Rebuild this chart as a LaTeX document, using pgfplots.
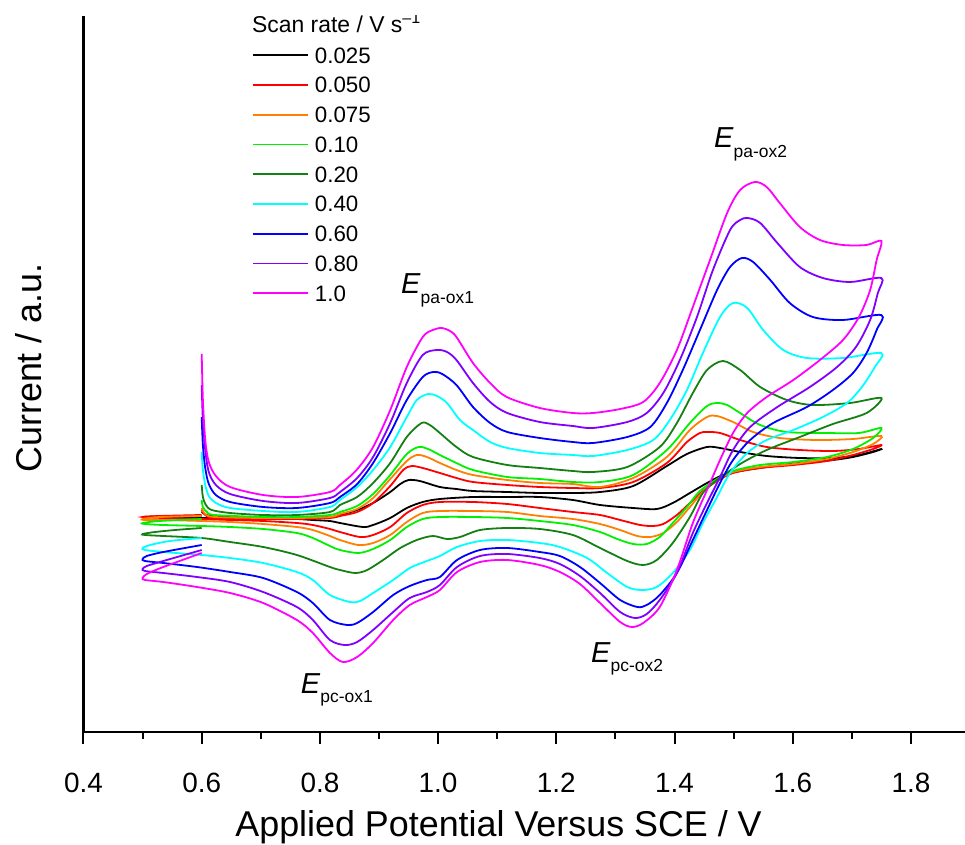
\documentclass[border=0pt]{standalone}
\usepackage{pgfplots}
\pgfplotsset{compat=1.18}
\usepackage{fontspec}
\setmainfont{Liberation Sans}
\definecolor{cOrange}{RGB}{255,128,0}
\definecolor{cGreen}{RGB}{0,240,0}
\definecolor{cDkGreen}{RGB}{20,128,20}
\definecolor{cCyan}{RGB}{0,255,255}
\definecolor{cBlue}{RGB}{0,0,255}
\definecolor{cViolet}{RGB}{128,0,255}
\definecolor{cMagenta}{RGB}{255,0,255}
\newcommand\tfont{\fontsize{28}{32}\selectfont}
\newcommand\lfont{\fontsize{22.4}{26}\selectfont}
\newcommand\annot[1]{{\fontsize{29}{32}\selectfont\textit{E}}\raisebox{-9.5bp}{\fontsize{17.5}{20}\selectfont #1}}
\begin{document}
\begin{tikzpicture}
\useasboundingbox (-83.5bp,-113bp) rectangle (881.5bp,732bp);
\begin{axis}[
  scale only axis, width=881.5bp, height=716bp,
  at={(0,0)}, anchor=south west,
  xmin=0.4, xmax=1.8915, ymin=0, ymax=716,
  axis x line=bottom, axis y line=left,
  axis line style={-, line width=2.2bp},
  xtick={0.4,0.6,0.8,1.0,1.2,1.4,1.6,1.8},
  minor xtick={0.5,0.7,0.9,1.1,1.3,1.5,1.7},
  ytick=\empty,
  tick align=outside,
  major tick length=12bp, minor tick length=7bp,
  every tick/.style={black, line width=2bp},
  xticklabel={\tfont\pgfmathprintnumber[fixed,fixed zerofill,precision=1,assume math mode=true]{\tick}},
  xticklabel style={anchor=base, yshift=-48bp},
  xlabel={Applied Potential Versus SCE / V},
  ylabel={Current / a.u.},
  every axis x label/.style={at={(axis description cs:0.4709,-0.1466)}, anchor=base, font=\fontsize{36}{40}\selectfont},
  every axis y label/.style={at={(axis description cs:-0.0474,0.5084)}, rotate=90, anchor=base, font=\fontsize{36}{40}\selectfont},
  legend style={at={(axis description cs:0.1911,0.9567)}, anchor=north west, draw=none, fill=none,
    row sep=13.75bp, inner sep=0pt, nodes={inner sep=0pt, text height=16bp, text depth=0bp, font=\lfont}},
  legend cell align=left,
  legend image code/.code={\draw[#1] (0bp,0bp) -- (54.5bp,0bp);},
  /tikz/every odd column/.append style={column sep=6.5bp},
  every axis plot/.append style={line width=1.8bp, smooth, tension=0.5},
]
% 0.025
\addplot[black] coordinates {
(0.600,220) (0.614,216) (0.648,215) (0.704,215) (0.761,214) (0.817,215) (0.834,217) (0.863,222) (0.890,229) (0.919,240) (0.936,248) (0.950,252) (0.969,251) (1.003,245) (1.031,243) (1.059,241) (1.117,240) (1.172,239) (1.228,239) (1.274,240) (1.330,246) (1.387,266) (1.421,278) (1.455,285) (1.477,284) (1.511,280) (1.556,276) (1.612,274) (1.668,274) (1.712,277) (1.750,283)
(1.736,280) (1.702,275) (1.668,272) (1.612,269) (1.556,265) (1.511,261) (1.482,257) (1.455,249) (1.426,239) (1.397,229) (1.370,223) (1.330,224) (1.274,227) (1.228,232) (1.172,235) (1.117,235) (1.059,235) (1.003,233) (0.974,230) (0.947,224) (0.919,214) (0.890,207) (0.873,205) (0.834,209) (0.817,211) (0.788,212) (0.761,213) (0.704,214) (0.648,214) (0.600,214) (0.535,215) (0.500,215) (0.546,216) (0.600,216)
};
\addlegendentry{\lfont 0.025}
% 0.050
\addplot[red] coordinates {
(0.600,222) (0.606,217) (0.622,214) (0.704,213) (0.761,213) (0.817,214) (0.834,216) (0.863,220) (0.890,229) (0.919,246) (0.941,262) (0.955,266) (0.974,264) (1.003,259) (1.031,254) (1.059,250) (1.117,247) (1.172,245) (1.228,244) (1.274,244) (1.330,250) (1.387,269) (1.421,290) (1.443,299) (1.455,300) (1.477,299) (1.511,292) (1.556,285) (1.612,282) (1.668,281) (1.712,283) (1.750,287)
(1.736,283) (1.702,277) (1.658,271) (1.601,267) (1.545,264) (1.499,259) (1.472,251) (1.448,241) (1.426,229) (1.404,217) (1.381,208) (1.364,206) (1.342,207) (1.308,212) (1.274,217) (1.228,220) (1.172,224) (1.117,228) (1.059,230) (1.003,230) (0.974,227) (0.947,219) (0.919,205) (0.890,197) (0.868,195) (0.834,200) (0.817,203) (0.788,207) (0.761,209) (0.704,211) (0.648,212) (0.600,213) (0.535,214) (0.500,215) (0.529,216) (0.600,217)
};
\addlegendentry{\lfont 0.050}
% 0.075
\addplot[cOrange] coordinates {
(0.600,224) (0.606,218) (0.622,215) (0.704,214) (0.761,214) (0.817,215) (0.834,218) (0.863,223) (0.890,234) (0.919,253) (0.947,271) (0.964,277) (0.981,275) (1.003,269) (1.031,262) (1.059,257) (1.117,252) (1.172,249) (1.228,248) (1.274,245) (1.330,254) (1.387,275) (1.426,302) (1.455,315) (1.472,316) (1.499,310) (1.533,300) (1.578,294) (1.641,292) (1.702,293) (1.750,296)
(1.736,288) (1.702,280) (1.658,273) (1.601,268) (1.545,265) (1.499,260) (1.472,252) (1.448,240) (1.426,225) (1.404,210) (1.381,199) (1.359,195) (1.337,196) (1.308,202) (1.274,208) (1.228,213) (1.172,216) (1.117,220) (1.059,221) (1.003,221) (0.974,219) (0.947,210) (0.919,197) (0.890,189) (0.865,187) (0.834,192) (0.817,196) (0.788,202) (0.761,205) (0.704,208) (0.648,210) (0.600,211) (0.535,212) (0.504,212) (0.500,213) (0.529,215) (0.600,216)
};
\addlegendentry{\lfont 0.075}
% 0.10
\addplot[cGreen] coordinates {
(0.600,232) (0.602,225) (0.609,220) (0.622,217) (0.704,215) (0.761,215) (0.817,217) (0.834,220) (0.863,226) (0.890,238) (0.919,257) (0.947,278) (0.967,285) (0.983,283) (1.003,277) (1.031,269) (1.059,262) (1.117,255) (1.172,253) (1.228,250) (1.274,250) (1.330,257) (1.387,282) (1.426,309) (1.455,326) (1.472,329) (1.489,327) (1.511,319) (1.545,307) (1.590,300) (1.658,299) (1.712,299) (1.750,304)
(1.736,294) (1.702,283) (1.658,275) (1.601,270) (1.545,267) (1.499,261) (1.472,253) (1.443,241) (1.421,225) (1.397,209) (1.375,195) (1.353,188) (1.330,188) (1.303,193) (1.274,200) (1.228,207) (1.172,211) (1.117,214) (1.059,215) (1.003,215) (0.974,213) (0.947,205) (0.919,192) (0.890,183) (0.865,179) (0.834,182) (0.817,186) (0.788,194) (0.761,199) (0.704,203) (0.648,205) (0.600,206) (0.535,207) (0.504,208) (0.500,209) (0.529,211) (0.600,213)
};
\addlegendentry{\lfont 0.10}
% 0.20
\addplot[cDkGreen] coordinates {
(0.600,247) (0.602,235) (0.607,227) (0.617,222) (0.648,219) (0.704,217) (0.761,217) (0.817,220) (0.834,227) (0.863,235) (0.890,249) (0.919,269) (0.947,295) (0.972,309) (0.986,307) (1.003,299) (1.031,285) (1.059,275) (1.117,267) (1.172,264) (1.228,261) (1.262,260) (1.320,265) (1.375,285) (1.404,309) (1.431,339) (1.455,362) (1.482,371) (1.511,362) (1.545,345) (1.590,332) (1.634,327) (1.697,329) (1.750,334)
(1.725,319) (1.668,308) (1.612,295) (1.556,282) (1.511,268) (1.472,252) (1.448,239) (1.426,215) (1.397,189) (1.370,172) (1.347,167) (1.320,171) (1.274,184) (1.228,197) (1.172,203) (1.117,204) (1.071,202) (1.037,195) (1.015,193) (0.991,196) (0.964,192) (0.936,184) (0.907,172) (0.880,162) (0.860,159) (0.834,162) (0.817,165) (0.761,177) (0.704,185) (0.648,190) (0.600,194) (0.535,196) (0.504,197) (0.500,198) (0.521,200) (0.555,202) (0.600,204)
};
\addlegendentry{\lfont 0.20}
% 0.40
\addplot[cCyan] coordinates {
(0.600,280) (0.602,262) (0.606,247) (0.612,236) (0.624,229) (0.648,224) (0.704,221) (0.761,220) (0.817,225) (0.834,232) (0.863,245) (0.890,262) (0.919,285) (0.947,315) (0.964,332) (0.983,338) (0.998,336) (1.015,329) (1.037,312) (1.059,302) (1.088,290) (1.117,284) (1.172,279) (1.228,277) (1.262,276) (1.320,282) (1.364,292) (1.392,312) (1.421,342) (1.448,379) (1.477,415) (1.499,429) (1.523,424) (1.550,402) (1.584,382) (1.624,374) (1.685,374) (1.750,379)
(1.739,365) (1.717,345) (1.692,329) (1.651,315) (1.601,302) (1.556,292) (1.523,279) (1.494,259) (1.472,235) (1.448,209) (1.426,182) (1.397,159) (1.370,145) (1.345,142) (1.320,145) (1.286,159) (1.252,174) (1.206,185) (1.172,189) (1.117,192) (1.071,191) (1.032,185) (1.003,176) (0.981,171) (0.952,164) (0.924,152) (0.890,139) (0.868,131) (0.851,130) (0.817,137) (0.788,152) (0.761,160) (0.704,169) (0.648,174) (0.600,177) (0.535,180) (0.504,182) (0.500,184) (0.513,187) (0.546,191) (0.600,194)
};
\addlegendentry{\lfont 0.40}
% 0.60
\addplot[cBlue] coordinates {
(0.600,315) (0.602,287) (0.606,264) (0.612,248) (0.624,237) (0.648,230) (0.704,225) (0.761,224) (0.817,229) (0.834,235) (0.863,248) (0.890,269) (0.919,299) (0.947,332) (0.974,355) (0.992,360) (1.007,358) (1.031,347) (1.059,325) (1.088,309) (1.117,300) (1.172,294) (1.228,290) (1.262,289) (1.320,295) (1.359,305) (1.387,329) (1.414,362) (1.443,402) (1.472,442) (1.494,465) (1.514,474) (1.533,470) (1.562,452) (1.595,429) (1.634,415) (1.685,412) (1.750,417)
(1.742,402) (1.725,379) (1.702,359) (1.668,342) (1.624,325) (1.567,309) (1.528,292) (1.499,272) (1.477,249) (1.455,222) (1.431,192) (1.404,159) (1.375,137) (1.353,127) (1.337,125) (1.308,132) (1.274,149) (1.240,165) (1.206,176) (1.172,180) (1.117,184) (1.071,182) (1.032,172) (1.003,155) (0.981,152) (0.952,146) (0.924,137) (0.890,120) (0.863,109) (0.846,107) (0.817,112) (0.788,129) (0.761,140) (0.704,154) (0.648,160) (0.592,165) (0.535,169) (0.504,171) (0.500,173) (0.507,176) (0.535,180) (0.600,187)
};
\addlegendentry{\lfont 0.60}
% 0.80
\addplot[cViolet] coordinates {
(0.600,347) (0.602,312) (0.606,282) (0.612,260) (0.624,247) (0.648,238) (0.704,231) (0.761,229) (0.817,234) (0.834,240) (0.863,254) (0.890,275) (0.919,309) (0.947,349) (0.974,377) (0.998,382) (1.015,380) (1.031,372) (1.059,349) (1.088,330) (1.117,319) (1.172,310) (1.228,306) (1.262,304) (1.320,310) (1.353,319) (1.381,339) (1.409,372) (1.438,415) (1.465,462) (1.494,502) (1.511,512) (1.524,514) (1.545,509) (1.574,489) (1.612,465) (1.651,454) (1.697,450) (1.750,454)
(1.744,439) (1.731,412) (1.707,385) (1.675,365) (1.629,345) (1.574,325) (1.528,305) (1.499,282) (1.477,255) (1.455,229) (1.431,199) (1.404,159) (1.375,132) (1.353,118) (1.333,114) (1.308,120) (1.274,139) (1.240,156) (1.206,168) (1.172,174) (1.117,178) (1.071,176) (1.032,165) (1.003,147) (0.981,140) (0.952,134) (0.924,120) (0.890,102) (0.863,90) (0.842,87) (0.817,92) (0.788,112) (0.761,125) (0.704,140) (0.648,150) (0.592,155) (0.535,159) (0.504,161) (0.500,163) (0.507,166) (0.535,171) (0.600,182)
};
\addlegendentry{\lfont 0.80}
% 1.0
\addplot[cMagenta] coordinates {
(0.600,378) (0.602,332) (0.606,292) (0.612,270) (0.624,256) (0.648,245) (0.704,237) (0.761,235) (0.817,240) (0.834,247) (0.862,262) (0.890,285) (0.919,322) (0.947,365) (0.974,395) (0.991,402) (1.006,404) (1.020,401) (1.031,395) (1.059,369) (1.088,349) (1.116,335) (1.172,324) (1.228,319) (1.262,319) (1.308,323) (1.347,330) (1.375,349) (1.404,382) (1.431,425) (1.460,472) (1.489,519) (1.511,542) (1.536,550) (1.556,545) (1.578,529) (1.612,505) (1.646,492) (1.685,487) (1.725,487) (1.750,491)
(1.742,472) (1.731,442) (1.712,415) (1.685,392) (1.646,372) (1.601,352) (1.556,335) (1.523,319) (1.499,299) (1.477,272) (1.455,242) (1.431,209) (1.404,162) (1.375,125) (1.347,109) (1.328,105) (1.308,110) (1.274,129) (1.240,148) (1.206,160) (1.172,167) (1.117,172) (1.071,170) (1.032,160) (1.003,142) (0.981,135) (0.952,127) (0.924,112) (0.890,89) (0.863,75) (0.839,70) (0.817,79) (0.788,99) (0.761,112) (0.704,129) (0.648,139) (0.592,145) (0.535,150) (0.504,152) (0.500,154) (0.507,158) (0.535,165) (0.600,179)
};
\addlegendentry{\lfont 1.0}
\node[anchor=base west, inner sep=0pt, font=\fontsize{23}{26}\selectfont] at (axis cs:0.685,699.3) {Scan rate / V s\textsuperscript{–1}};
\node[anchor=base west, inner sep=0pt] at (axis cs:0.9372,438) {\annot{pa-ox1}};
\node[anchor=base west, inner sep=0pt] at (axis cs:1.4668,584) {\annot{pa-ox2}};
\node[anchor=base west, inner sep=0pt] at (axis cs:0.7675,39) {\annot{pc-ox1}};
\node[anchor=base west, inner sep=0pt] at (axis cs:1.2587,70) {\annot{pc-ox2}};
\end{axis}
\end{tikzpicture}
\end{document}
